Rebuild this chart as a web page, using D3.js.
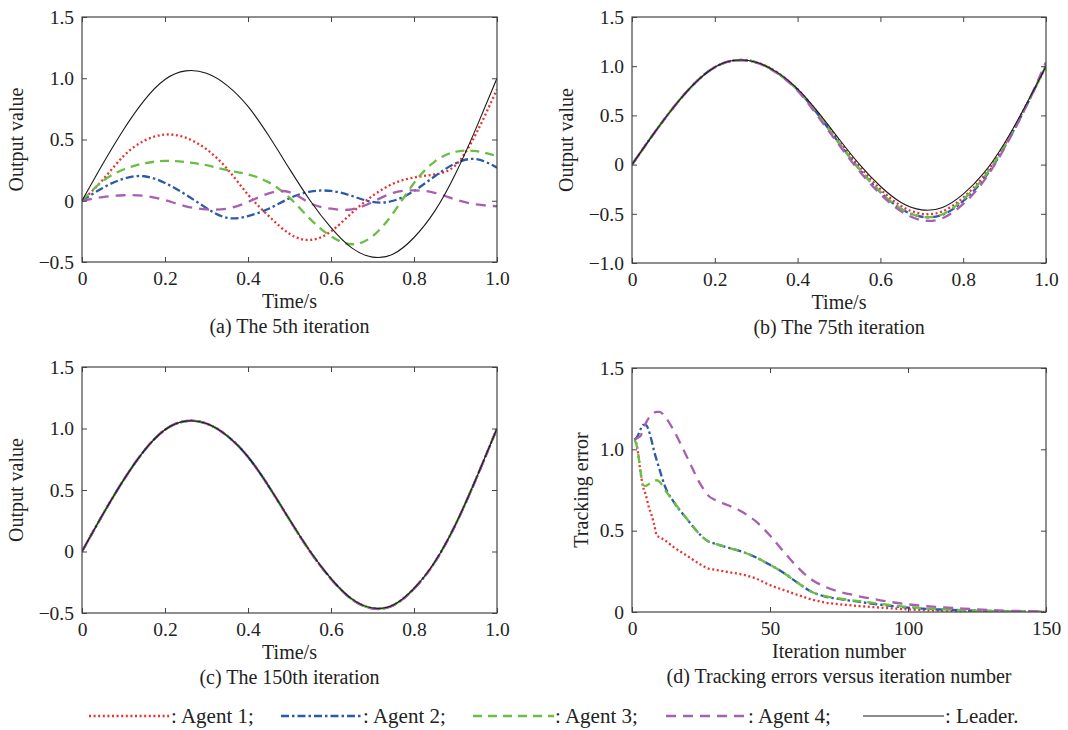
<!DOCTYPE html>
<html>
<head>
<meta charset="utf-8">
<script src="https://cdnjs.cloudflare.com/ajax/libs/d3/7.8.5/d3.min.js"></script>
<style>
  html, body { margin: 0; padding: 0; background: #fff; }
  svg { display: block; font-family: 'Liberation Serif', 'Times New Roman', serif; }
  .tick text { font-family: 'Liberation Serif', 'Times New Roman', serif; font-size: 19.5px; fill: #222; }
  .tick line { stroke: #444; stroke-width: 1; }
</style>
</head>
<body>
<svg id="chart" width="1068" height="730"></svg>
<script>
'use strict';

// sample times (s)
var times = [0, 0.05, 0.1, 0.15, 0.2, 0.25, 0.3, 0.35, 0.4, 0.45, 0.5,
  0.55, 0.6, 0.65, 0.7, 0.75, 0.8, 0.85, 0.9, 0.95, 1.0];

var leader = [0, 0.30, 0.58, 0.82, 0.99, 1.06, 1.04, 0.94, 0.77, 0.53, 0.26,
  0.0, -0.22, -0.385, -0.46, -0.435, -0.30, -0.085, 0.22, 0.595, 1.0];

// (a) 5th iteration
var agent1Iter5 = [0, 0.17, 0.365, 0.49, 0.54, 0.515, 0.42, 0.26, 0.05, -0.125, -0.27,
  -0.32, -0.25, -0.10, 0.04, 0.14, 0.19, 0.215, 0.29, 0.55, 0.91];
var agent2Iter5 = [0, 0.105, 0.18, 0.20, 0.145, 0.05, -0.06, -0.14, -0.125, -0.065, 0.02,
  0.075, 0.08, 0.04, -0.01, 0.0, 0.08, 0.20, 0.305, 0.34, 0.27];
var agent3Iter5 = [0, 0.16, 0.255, 0.305, 0.325, 0.315, 0.29, 0.25, 0.215, 0.15, 0.025,
  -0.15, -0.29, -0.355, -0.29, -0.10, 0.145, 0.32, 0.40, 0.405, 0.365];
var agent4Iter5 = [0, 0.03, 0.045, 0.04, 0.005, -0.045, -0.07, -0.065, -0.01, 0.06, 0.07,
  -0.02, -0.065, -0.07, -0.01, 0.065, 0.085, 0.065, 0.01, -0.03, -0.045];

// (b) 75th iteration
var agent1Iter75 = [0, 0.30, 0.58, 0.82, 0.99, 1.06, 1.04, 0.94, 0.765, 0.52, 0.24,
  -0.02, -0.25, -0.42, -0.50, -0.475, -0.335, -0.115, 0.20, 0.585, 1.0];
var agent2Iter75 = [0, 0.30, 0.58, 0.82, 0.99, 1.06, 1.04, 0.935, 0.76, 0.505, 0.22,
  -0.05, -0.28, -0.45, -0.53, -0.51, -0.37, -0.145, 0.18, 0.575, 1.01];
var agent3Iter75 = [0, 0.30, 0.58, 0.82, 0.99, 1.06, 1.04, 0.935, 0.76, 0.505, 0.22,
  -0.05, -0.28, -0.45, -0.53, -0.505, -0.355, -0.13, 0.19, 0.58, 1.0];
var agent4Iter75 = [0, 0.30, 0.58, 0.82, 0.99, 1.06, 1.035, 0.93, 0.75, 0.485, 0.20,
  -0.07, -0.30, -0.475, -0.565, -0.545, -0.40, -0.165, 0.17, 0.575, 1.04];

// (c) 150th iteration
var agent1Iter150 = [0, 0.30, 0.58, 0.82, 0.99, 1.06, 1.04, 0.94, 0.77, 0.53, 0.26,
  0.0, -0.221, -0.386, -0.461, -0.436, -0.301, -0.086, 0.219, 0.595, 1.0];
var agent2Iter150 = [0, 0.30, 0.58, 0.82, 0.99, 1.06, 1.04, 0.94, 0.769, 0.529, 0.259,
  -0.002, -0.222, -0.387, -0.462, -0.437, -0.302, -0.087, 0.218, 0.594, 1.0];
var agent3Iter150 = [0, 0.30, 0.58, 0.82, 0.99, 1.06, 1.04, 0.94, 0.77, 0.53, 0.259,
  -0.001, -0.221, -0.387, -0.461, -0.436, -0.302, -0.086, 0.219, 0.595, 1.0];
var agent4Iter150 = [0, 0.30, 0.58, 0.82, 0.99, 1.06, 1.04, 0.939, 0.769, 0.528, 0.258,
  -0.003, -0.223, -0.389, -0.464, -0.439, -0.304, -0.088, 0.217, 0.593, 1.0];

// (d) tracking errors
var iterations = [1, 2, 3, 4, 5, 6, 7, 8, 9, 10, 12, 15, 20, 25, 28, 30, 35, 40, 45, 50,
  55, 60, 65, 70, 75, 80, 90, 100, 110, 120, 130, 140, 150];
var error1 = [1.07, 1.0, 0.87, 0.77, 0.72, 0.65, 0.60, 0.54, 0.47, 0.46, 0.44, 0.40, 0.345,
  0.29, 0.265, 0.26, 0.245, 0.23, 0.205, 0.165, 0.135, 0.105, 0.078, 0.058, 0.048, 0.04,
  0.027, 0.016, 0.009, 0.005, 0.003, 0.001, 0.0];
var error2 = [1.06, 1.08, 1.12, 1.15, 1.15, 1.12, 1.06, 0.99, 0.93, 0.875, 0.77, 0.68, 0.57,
  0.47, 0.43, 0.42, 0.395, 0.37, 0.335, 0.29, 0.24, 0.18, 0.125, 0.095, 0.08, 0.068,
  0.045, 0.027, 0.017, 0.01, 0.006, 0.003, 0.001];
var error3 = [1.06, 1.0, 0.875, 0.78, 0.775, 0.785, 0.795, 0.805, 0.81, 0.80, 0.75, 0.68, 0.57,
  0.47, 0.43, 0.42, 0.395, 0.37, 0.335, 0.29, 0.24, 0.18, 0.125, 0.097, 0.083, 0.072,
  0.05, 0.03, 0.019, 0.011, 0.006, 0.003, 0.001];
var error4 = [1.06, 1.07, 1.08, 1.12, 1.16, 1.19, 1.21, 1.225, 1.23, 1.23, 1.20, 1.12, 0.95,
  0.78, 0.71, 0.69, 0.655, 0.615, 0.555, 0.47, 0.37, 0.275, 0.20, 0.155, 0.125, 0.105,
  0.072, 0.047, 0.032, 0.021, 0.012, 0.006, 0.003];

var styles = [
  { name: ': Agent 1;', color: '#ee2f2f', width: 2.3, dash: '2 2.6' },
  { name: ': Agent 2;', color: '#2c5aa8', width: 2.3, dash: '8 3 2.5 3' },
  { name: ': Agent 3;', color: '#6bbd45', width: 2.3, dash: '9 6' },
  { name: ': Agent 4;', color: '#a85fb1', width: 2.3, dash: '10 7' },
  { name: ': Leader.', color: '#1a1a1a', width: 1.1, dash: null }
];

var svg = d3.select('#chart');

var fmtTick = function(v) {
  if (v === 0) return '0';
  return (v < 0 ? '\u2212' : '') + Math.abs(v).toFixed(1);
};

// d3 axes put a sans-serif font on their group; drop it and the domain path
var plain = function(a) {
  a.attr('font-family', null).attr('font-size', null);
  a.select('.domain').remove();
};

var drawPanel = function(p) {
  var g = svg.append('g');
  var x = d3.scaleLinear().domain(p.xDomain).range([p.left, p.right]);
  var y = d3.scaleLinear().domain(p.yDomain).range([p.bottom, p.top]);

  g.append('clipPath')
    .attr('id', p.id)
    .append('rect')
    .attr('x', p.left)
    .attr('y', p.top)
    .attr('width', p.right - p.left)
    .attr('height', p.bottom - p.top);

  var line = d3.line()
    .x(function(d) { return x(d[0]); })
    .y(function(d) { return y(d[1]); })
    .curve(p.curve);

  var plot = g.append('g').attr('clip-path', 'url(#' + p.id + ')');
  p.series.forEach(function(values, i) {
    var st = styles[i];
    plot.append('path')
      .datum(p.xs.map(function(v, j) { return [v, values[j]]; }))
      .attr('d', line)
      .attr('fill', 'none')
      .attr('stroke', st.color)
      .attr('stroke-width', st.width)
      .attr('stroke-dasharray', st.dash);
  });

  // MATLAB-like box with inward ticks on every side
  g.append('g')
    .attr('transform', 'translate(0,' + p.bottom + ')')
    .call(d3.axisBottom(x).tickValues(p.xTicks).tickSize(-5).tickSizeOuter(0)
      .tickPadding(9).tickFormat(p.xFormat))
    .call(plain);
  g.append('g')
    .attr('transform', 'translate(0,' + p.top + ')')
    .call(d3.axisTop(x).tickValues(p.xTicks).tickSize(-5).tickSizeOuter(0).tickFormat(''))
    .call(plain);
  g.append('g')
    .attr('transform', 'translate(' + p.left + ',0)')
    .call(d3.axisLeft(y).tickValues(p.yTicks).tickSize(-5).tickSizeOuter(0)
      .tickPadding(8).tickFormat(fmtTick))
    .call(plain);
  g.append('g')
    .attr('transform', 'translate(' + p.right + ',0)')
    .call(d3.axisRight(y).tickValues(p.yTicks).tickSize(-5).tickSizeOuter(0).tickFormat(''))
    .call(plain);

  g.append('rect')
    .attr('x', p.left)
    .attr('y', p.top)
    .attr('width', p.right - p.left)
    .attr('height', p.bottom - p.top)
    .attr('fill', 'none')
    .attr('stroke', '#444')
    .attr('stroke-width', 1.2);

  var cx = (p.left + p.right) / 2;
  g.append('text')
    .attr('x', cx)
    .attr('y', p.bottom + 46)
    .attr('text-anchor', 'middle')
    .attr('font-size', 20)
    .attr('fill', '#222')
    .text(p.xLabel);
  g.append('text')
    .attr('x', cx)
    .attr('y', p.bottom + 71)
    .attr('text-anchor', 'middle')
    .attr('font-size', 20)
    .attr('fill', '#222')
    .text(p.caption);
  g.append('text')
    .attr('transform', 'translate(' + (p.left - p.yLabelOffset) + ',' + ((p.top + p.bottom) / 2) + ') rotate(-90)')
    .attr('text-anchor', 'middle')
    .attr('font-size', 20)
    .attr('fill', '#222')
    .text(p.yLabel);
};

var timeTicks = [0, 0.2, 0.4, 0.6, 0.8, 1.0];

drawPanel({
  id: 'clipA', left: 82, right: 497, top: 17, bottom: 262,
  xDomain: [0, 1], yDomain: [-0.5, 1.5], xs: times, curve: d3.curveNatural,
  xTicks: timeTicks, yTicks: [-0.5, 0, 0.5, 1.0, 1.5], xFormat: fmtTick,
  series: [agent1Iter5, agent2Iter5, agent3Iter5, agent4Iter5, leader],
  xLabel: 'Time/s', yLabel: 'Output value', yLabelOffset: 59,
  caption: '(a) The 5th iteration'
});

drawPanel({
  id: 'clipB', left: 632, right: 1046, top: 17, bottom: 263,
  xDomain: [0, 1], yDomain: [-1.0, 1.5], xs: times, curve: d3.curveNatural,
  xTicks: timeTicks, yTicks: [-1.0, -0.5, 0, 0.5, 1.0, 1.5], xFormat: fmtTick,
  series: [agent1Iter75, agent2Iter75, agent3Iter75, agent4Iter75, leader],
  xLabel: 'Time/s', yLabel: 'Output value', yLabelOffset: 59,
  caption: '(b) The 75th iteration'
});

drawPanel({
  id: 'clipC', left: 82, right: 497, top: 367, bottom: 613,
  xDomain: [0, 1], yDomain: [-0.5, 1.5], xs: times, curve: d3.curveNatural,
  xTicks: timeTicks, yTicks: [-0.5, 0, 0.5, 1.0, 1.5], xFormat: fmtTick,
  series: [agent1Iter150, agent2Iter150, agent3Iter150, agent4Iter150, leader],
  xLabel: 'Time/s', yLabel: 'Output value', yLabelOffset: 59,
  caption: '(c) The 150th iteration'
});

drawPanel({
  id: 'clipD', left: 632, right: 1046, top: 368, bottom: 612,
  xDomain: [0, 150], yDomain: [0, 1.5], xs: iterations, curve: d3.curveMonotoneX,
  xTicks: [0, 50, 100, 150], yTicks: [0, 0.5, 1.0, 1.5], xFormat: d3.format('d'),
  series: [error1, error2, error3, error4],
  xLabel: 'Iteration number', yLabel: 'Tracking error', yLabelOffset: 44,
  caption: '(d) Tracking errors versus iteration number'
});

// legend row
var legendX = [89, 281, 473, 666, 863];
var legend = svg.append('g').attr('transform', 'translate(0,716)');
styles.forEach(function(st, i) {
  legend.append('line')
    .attr('x1', legendX[i])
    .attr('x2', legendX[i] + 81)
    .attr('stroke', st.color)
    .attr('stroke-width', st.width)
    .attr('stroke-dasharray', st.dash);
  legend.append('text')
    .attr('x', legendX[i] + 82)
    .attr('y', 7)
    .attr('font-size', 21)
    .attr('fill', '#222')
    .text(st.name);
});
</script>
</body>
</html>
